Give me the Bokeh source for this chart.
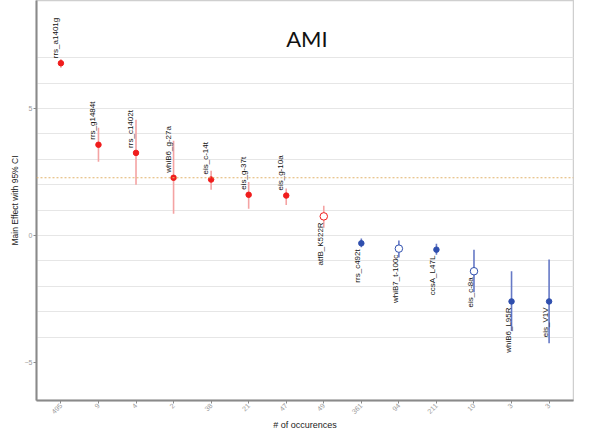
from bokeh.plotting import figure
from bokeh.models import ColumnDataSource, FixedTicker, Span, Label, Range1d
from bokeh.core.properties import value
from bokeh.embed import file_html
from bokeh.resources import INLINE
import math

# ---- data ----
names = ["rrs_a1401g", "rrs_g1484t", "rrs_c1402t", "whiB6_g-27a", "eis_c-14t",
         "eis_g-37t", "eis_g-10a", "atfB_K522R", "rrs_c492t", "whiB7_t-100c",
         "ccsA_L47L", "eis_c-8a", "whiB6_L95R", "eis_V1V"]
counts = ["495", "9", "4", "2", "38", "21", "47", "49", "361", "94", "211", "10", "3", "3"]
effect = [6.78, 3.57, 3.25, 2.27, 2.2, 1.6, 1.57, 0.75, -0.31, -0.52, -0.56, -1.41, -2.6, -2.6]
lower = [6.6, 2.9, 2.0, 0.85, 1.8, 1.05, 1.2, 0.3, -0.47, -0.87, -0.76, -2.24, -3.76, -4.25]
upper = [6.95, 4.24, 4.55, 3.73, 2.55, 2.1, 1.85, 1.17, -0.12, -0.2, -0.33, -0.56, -1.41, -0.95]
significant = [True, True, True, True, True, True, True, False, True, False, True, False, True, True]
label_above = [True] * 7 + [False] * 7
reference_line = 2.27
title_text = "AMI"

RED, RED_BAR = "#f01c1c", "#f4a3a3"
BLUE, BLUE_BAR = "#2f4fae", "#6679c6"

xs = list(range(1, len(names) + 1))
pos = [e > 0 for e in effect]
src = ColumnDataSource(dict(
    x=xs, name=names, effect=effect, lower=lower, upper=upper,
    color=[RED if p else BLUE for p in pos],
    bar=[RED_BAR if p else BLUE_BAR for p in pos],
    fill=[(RED if p else BLUE) if s else "white" for p, s in zip(pos, significant)],
    size=[5.5 if s else 7.5 for s in significant],
))

p = figure(width=568, height=433, output_backend="svg", toolbar_location=None,
           x_range=Range1d(0.35, len(names) + 0.65), y_range=Range1d(-6.5, 9.25),
           min_border_left=0, min_border_right=1, min_border_top=0, min_border_bottom=0)
p.margin = (0, 0, 0, 6)
p.background_fill_color = "white"
p.border_fill_color = "white"
p.outline_line_color = "#cfcfcf"
p.outline_line_width = 1.5

# grid
p.xgrid.visible = False
p.ygrid.ticker = FixedTicker(ticks=list(range(-4, 8)))
p.ygrid.grid_line_color = "#e6e6e6"
p.ygrid.grid_line_width = 1

# axes
p.yaxis.ticker = FixedTicker(ticks=[-5, 0, 5])
p.xaxis.ticker = FixedTicker(ticks=xs)
p.xaxis.major_label_overrides = {x: c for x, c in zip(xs, counts)}
p.xaxis.major_label_orientation = math.pi / 4
for ax in (p.xaxis[0], p.yaxis[0]):
    ax.axis_line_color = "#8a8a8a"
    ax.axis_line_width = 2
    ax.major_tick_line_color = "#8a8a8a"
    ax.major_tick_in = 0
    ax.major_tick_out = 3
    ax.minor_tick_line_color = None
    ax.major_label_text_color = "#9a9a9a"
    ax.major_label_text_font = "Liberation Sans"
    ax.major_label_text_font_size = "7px"
    ax.major_label_standoff = 2
    ax.axis_label_text_font = "Liberation Sans"
    ax.axis_label_text_font_style = "normal"
    ax.axis_label_text_color = "#222222"
    ax.axis_label_standoff = 4
p.xaxis.axis_label = "# of occurences"
p.xaxis.axis_label_text_font_size = "9px"
p.xaxis.axis_label_standoff = 1
p.xaxis.major_label_standoff = 1
p.yaxis.axis_label = "Main Effect with 95% CI"
p.yaxis.axis_label_text_font_size = "8.5px"
p.yaxis.axis_label_standoff = 2
p.yaxis.major_label_standoff = 1

# reference line
p.add_layout(Span(location=reference_line, dimension="width", line_color="#e2b46e",
                  line_dash="2 2", line_width=1.2))

# error bars and points
p.segment(x0="x", y0="lower", x1="x", y1="upper", source=src, line_color="bar", line_width=1.6)
p.scatter(x="x", y="effect", source=src, size="size", fill_color="fill",
          line_color="color", line_width=1.0)

# labels
above = ColumnDataSource(dict(
    x=[x for x, a in zip(xs, label_above) if a],
    y=[e for e, a in zip(effect, label_above) if a],
    t=[n for n, a in zip(names, label_above) if a]))
below = ColumnDataSource(dict(
    x=[x for x, a in zip(xs, label_above) if not a],
    y=[e for e, a in zip(effect, label_above) if not a],
    t=[n for n, a in zip(names, label_above) if not a]))
common = dict(angle=math.pi / 2, text_font=value("Liberation Sans"),
              text_font_size="8px", text_color="#111111", text_baseline="bottom")
p.text(x="x", y="y", text="t", source=above, text_align="left",
       x_offset=-1, y_offset=-5, **common)
p.text(x="x", y="y", text="t", source=below, text_align="right",
       x_offset=1, y_offset=6, **common)

p.add_layout(Label(x=(1 + len(names)) / 2 + 0.05, y=7.75, text=title_text,
                   text_font="Lato", text_font_size="22px", text_color="#111111",
                   text_align="center", text_baseline="middle"))

open("out.html", "w").write(file_html(p, INLINE))
